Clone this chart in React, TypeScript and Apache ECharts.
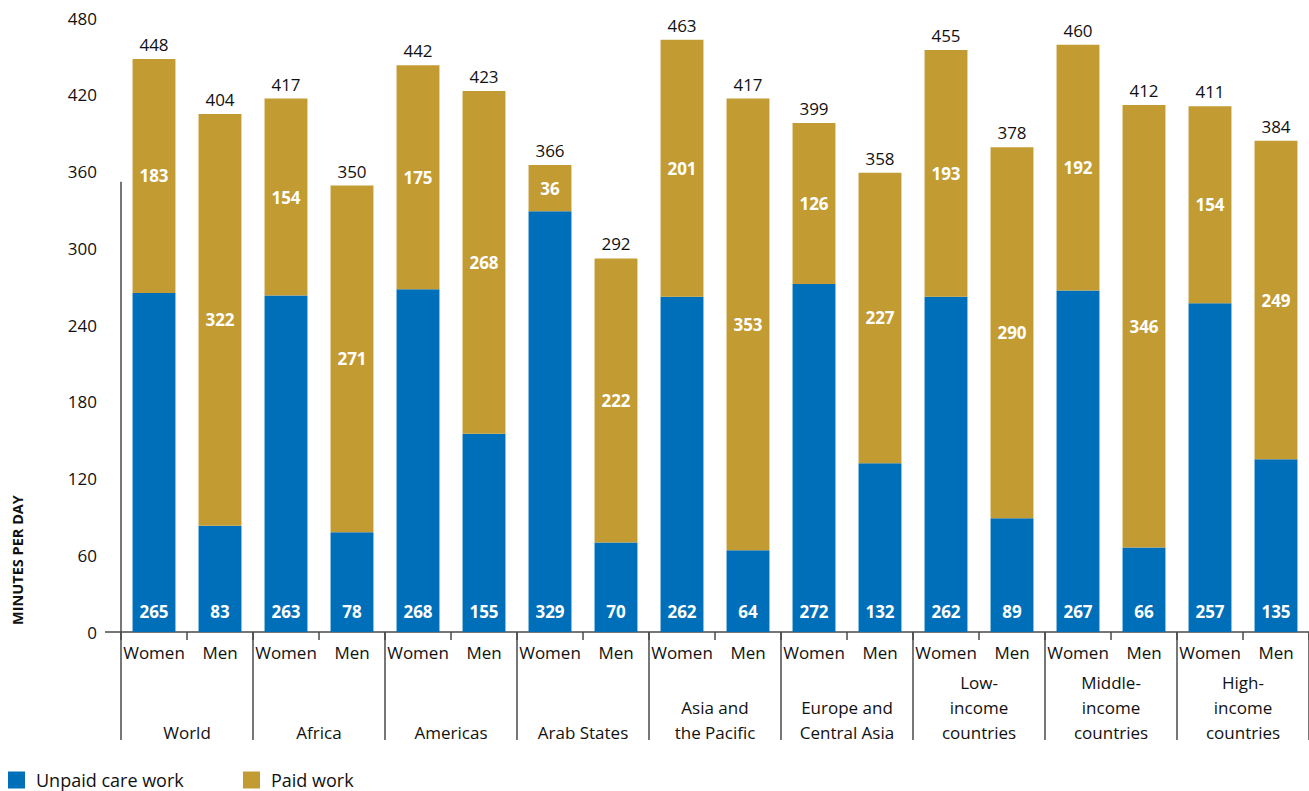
import React, { useEffect, useRef } from "react";
import * as echarts from "echarts";

const groups = [
  "World",
  "Africa",
  "Americas",
  "Arab States",
  "Asia and\nthe Pacific",
  "Europe and\nCentral Asia",
  "Low-\nincome\ncountries",
  "Middle-\nincome\ncountries",
  "High-\nincome\ncountries",
];
const sexes = ["Women", "Men"];
const categories = groups.flatMap(() => sexes);
const unpaid = [265, 83, 263, 78, 268, 155, 329, 70, 262, 64, 272, 132, 262, 89, 267, 66, 257, 135];
const paid = [183, 322, 154, 271, 175, 268, 36, 222, 201, 353, 126, 227, 193, 290, 192, 346, 154, 249];
const totals = [448, 404, 417, 350, 442, 423, 366, 292, 463, 417, 399, 358, 455, 378, 460, 412, 411, 384];
const yTicks = [0, 60, 120, 180, 240, 300, 360, 420, 480];

const BLUE = "#006FB9";
const GOLD = "#C29B33";
const AXIS = "#4a4a4a";
const FONT = "'Open Sans', 'Noto Sans', sans-serif";

export default function App() {
  const ref = useRef<HTMLDivElement>(null);
  useEffect(() => {
    if (!ref.current) return;
    const chart = echarts.init(ref.current, null, { renderer: "svg" });
    const legendText = {
      fontSize: 18,
      color: "#111",
      fontFamily: FONT,
      lineHeight: 20,
      padding: [0, 0, 0, 6],
    };
    const option: any = {
      animation: false,
      textStyle: { fontFamily: FONT },
      grid: { left: 121, right: -1, top: 18, bottom: 159, containLabel: false },
      legend: [
        {
          data: ["Unpaid care work"],
          left: 8,
          top: 770,
          padding: 0,
          itemWidth: 17,
          itemHeight: 17,
          icon: "rect",
          textStyle: legendText,
          selectedMode: false,
        },
        {
          data: ["Paid work"],
          left: 243,
          top: 770,
          padding: 0,
          itemWidth: 17,
          itemHeight: 17,
          icon: "rect",
          textStyle: legendText,
          selectedMode: false,
        },
      ],
      xAxis: [
        {
          type: "category",
          data: categories,
          position: "bottom",
          axisLine: { show: true, lineStyle: { color: AXIS, width: 1.5 } },
          axisTick: { show: true, length: 8, lineStyle: { color: AXIS, width: 1.5 } },
          axisLabel: { fontSize: 17, color: "#111", margin: 12, fontFamily: FONT, interval: 0 },
        },
        {
          type: "category",
          data: groups,
          position: "bottom",
          axisLine: { show: false },
          axisTick: { show: true, length: 108, lineStyle: { color: AXIS, width: 1.5 } },
          axisLabel: {
            fontSize: 17,
            color: "#111",
            margin: 113,
            verticalAlign: "bottom",
            lineHeight: 25,
            fontFamily: FONT,
            interval: 0,
          },
        },
      ],
      yAxis: {
        type: "value",
        min: 0,
        max: 480,
        interval: 60,
        axisLine: { show: false },
        axisTick: { show: false },
        splitLine: { show: false },
        axisLabel: {
          fontSize: 17,
          color: "#111",
          margin: 24,
          fontFamily: FONT,
          formatter: (v: number) => (yTicks.includes(v) ? String(v) : ""),
        },
      },
      series: [
        {
          name: "Unpaid care work",
          type: "bar",
          stack: "t",
          data: unpaid,
          barWidth: "65%",
          itemStyle: { color: BLUE },
          label: {
            show: true,
            position: "insideBottom",
            distance: 12,
            color: "#fff",
            fontWeight: "bold",
            fontSize: 17,
            fontFamily: FONT,
          },
        },
        {
          name: "Paid work",
          type: "bar",
          stack: "t",
          data: paid,
          barWidth: "65%",
          itemStyle: { color: GOLD },
          label: {
            show: true,
            position: "inside",
            color: "#fff",
            fontWeight: "bold",
            fontSize: 17,
            fontFamily: FONT,
          },
        },
        {
          name: "Total",
          type: "bar",
          stack: "t",
          data: paid.map(() => 0),
          barWidth: "65%",
          itemStyle: { color: "transparent" },
          silent: true,
          label: {
            show: true,
            position: "top",
            distance: 6,
            color: "#111",
            fontSize: 17,
            fontFamily: FONT,
            formatter: (p: any) => String(totals[p.dataIndex]),
          },
        },
      ],
    };
    chart.setOption(option);
    const top = chart.convertToPixel({ gridIndex: 0 } as any, [0, 352]) as number[];
    const bottom = chart.convertToPixel({ gridIndex: 0 } as any, [0, 0]) as number[];
    const x0 = 121;
    chart.setOption({
      graphic: [
        {
          type: "line",
          shape: { x1: x0, y1: top[1], x2: x0, y2: bottom[1] },
          style: { stroke: AXIS, lineWidth: 1.5 },
          z: 10,
        },
        {
          type: "line",
          shape: { x1: 105, y1: bottom[1], x2: x0, y2: bottom[1] },
          style: { stroke: AXIS, lineWidth: 1.5 },
          z: 10,
        },
        {
          type: "text",
          x: 17,
          y: 560,
          rotation: Math.PI / 2,
          style: {
            text: "MINUTES PER DAY",
            fontSize: 14.5,
            fontWeight: "bold",
            fontFamily: FONT,
            fill: "#111",
            align: "center",
            verticalAlign: "middle",
          },
        },
      ],
    });
    return () => chart.dispose();
  }, []);
  return <div ref={ref} style={{ width: 1309, height: 791, position: "absolute", left: 0, top: 0 }} />;
}
